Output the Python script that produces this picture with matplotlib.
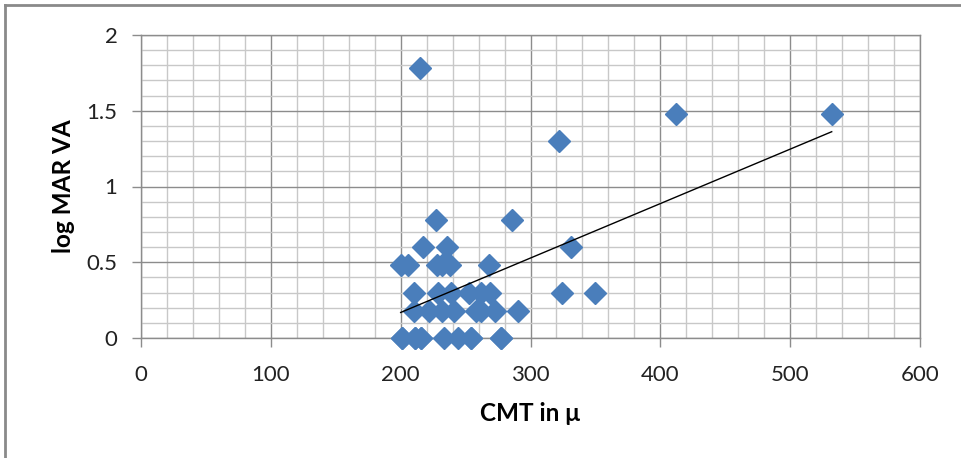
import numpy as np
import matplotlib
matplotlib.use("Agg")
import matplotlib.pyplot as plt
from matplotlib.lines import Line2D
from matplotlib.ticker import MultipleLocator

# CMT (microns) and log MAR VA
# (a few overlapping points at log MAR 0 are hidden under visible ones)
cmt = [201, 211, 216, 233, 244, 254, 277,
       201, 211, 216, 254, 277,
       210, 222, 232, 241, 258, 262, 273, 290,
       210, 229, 239, 253, 262, 269, 324, 350,
       200, 206, 228, 232, 238, 268,
       217, 236, 331,
       227, 286,
       322, 412, 532, 215]
logmar = [0, 0, 0, 0, 0, 0, 0,
          0, 0, 0, 0, 0,
          0.18, 0.18, 0.18, 0.18, 0.18, 0.18, 0.18, 0.18,
          0.30, 0.30, 0.30, 0.30, 0.30, 0.30, 0.30, 0.30,
          0.48, 0.48, 0.48, 0.48, 0.48, 0.48,
          0.60, 0.60, 0.60,
          0.78, 0.78,
          1.30, 1.48, 1.48, 1.78]

x_ticks = [0, 100, 200, 300, 400, 500, 600]
y_ticks = [0, 0.5, 1, 1.5, 2]
y_tick_labels = ["0", "0.5", "1", "1.5", "2"]

plt.rcParams['font.family'] = ['Lato', 'DejaVu Sans']

fig = plt.figure(figsize=(9.61, 4.58), dpi=100)
ax = fig.add_axes([141/961, 1-338/458, (920-141)/961, (338-35)/458])

ax.set_xlim(0, 600)
ax.set_ylim(0, 2)
ax.set_xticks(x_ticks)
ax.set_yticks(y_ticks)
ax.set_yticklabels(y_tick_labels)
ax.xaxis.set_minor_locator(MultipleLocator(20))
ax.yaxis.set_minor_locator(MultipleLocator(0.1))

ax.grid(which='minor', color='#c8c8c8', linewidth=1.0, zorder=0)
ax.grid(which='major', color='#8c8c8c', linewidth=1.0, zorder=0)
ax.set_axisbelow(True)
for s in ax.spines.values():
    s.set_color('#8c8c8c')
    s.set_linewidth(1.0)

ax.tick_params(which='major', direction='out', length=6.5, width=1.0, color='#8c8c8c',
               labelsize=16, labelcolor='#222222')
ax.tick_params(axis='x', which='major', pad=13)
ax.tick_params(axis='y', which='major', pad=10.5)
ax.tick_params(which='minor', length=0)

ax.plot(cmt, logmar, linestyle='none', marker='D', markersize=11.5,
        color='#4a7ebb', markeredgecolor='#4a7ebb', zorder=3, clip_on=False)

# linear trendline
coef = np.polyfit(cmt, logmar, 1)
xs = np.array([min(cmt), max(cmt)])
ax.plot(xs, np.polyval(coef, xs), color='black', linewidth=1.0, zorder=4)

ax.set_xlabel("CMT in μ", fontsize=17.5, fontweight='bold', labelpad=12)
ax.set_ylabel("log MAR VA", fontsize=17.5, fontweight='bold', labelpad=8)

# outer chart frame (top and left visible)
fig.add_artist(Line2D([5/961, 1], [1-5/458, 1-5/458], color='#8a8a8a', linewidth=2,
                      transform=fig.transFigure))
fig.add_artist(Line2D([5/961, 5/961], [0, 1-5/458], color='#8a8a8a', linewidth=2,
                      transform=fig.transFigure))

fig.savefig("out.png", dpi=100)
